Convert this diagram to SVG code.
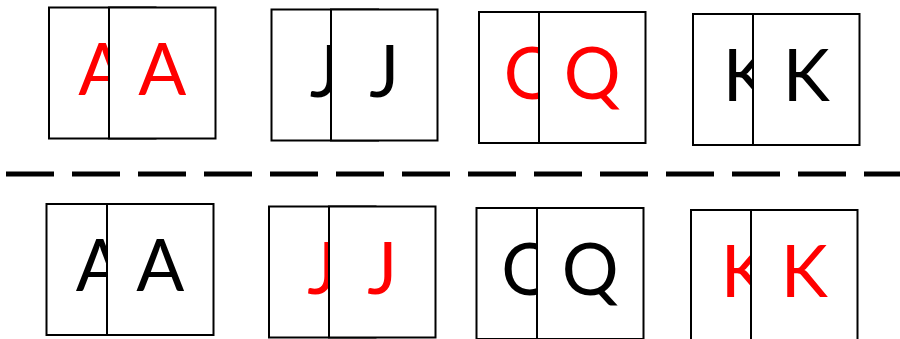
<svg xmlns="http://www.w3.org/2000/svg" width="900" height="339" viewBox="0 0 900 339">
<style>
.card{fill:#fff;stroke:#000;stroke-width:2}
.t{font-family:Lato,"Open Sans",sans-serif;font-size:71px;text-anchor:middle}
.r{fill:#ff0000}
.b{fill:#000}
.sep{stroke:#000;stroke-width:5;stroke-dasharray:48 18;fill:none}
</style>
<rect width="900" height="339" fill="#fff"/>
<g id="connectors">
<line class="sep" x1="6" y1="174" x2="900" y2="174"/>
</g>
<g id="top-A">
<rect class="card" x="49" y="7.5" width="106.5" height="131"/>
<text class="t r" x="102.25" y="94.5">A</text>
<rect class="card" x="109" y="7.5" width="106.5" height="131"/>
<text class="t r" x="162.25" y="94.5">A</text>
</g>
<g id="top-J">
<rect class="card" x="271.5" y="9.5" width="106.5" height="131"/>
<text class="t b" x="324.75" y="97">J</text>
<rect class="card" x="331" y="9.5" width="106.5" height="131"/>
<text class="t b" x="384.25" y="97">J</text>
</g>
<g id="top-Q">
<rect class="card" x="479" y="12" width="106.5" height="131"/>
<text class="t r" x="532.25" y="99">Q</text>
<rect class="card" x="539" y="12" width="106.5" height="131"/>
<text class="t r" x="592.25" y="99">Q</text>
</g>
<g id="top-K">
<rect class="card" x="693" y="14" width="106.5" height="131"/>
<text class="t b" x="746.25" y="101">K</text>
<rect class="card" x="753" y="14" width="106.5" height="131"/>
<text class="t b" x="806.25" y="101">K</text>
</g>
<g id="bottom-A">
<rect class="card" x="46.5" y="204" width="106.5" height="131"/>
<text class="t b" x="99.75" y="291">A</text>
<rect class="card" x="107" y="204" width="106.5" height="131"/>
<text class="t b" x="160.25" y="291">A</text>
</g>
<g id="bottom-J">
<rect class="card" x="269" y="206.5" width="106.5" height="131"/>
<text class="t r" x="322.25" y="293.5">J</text>
<rect class="card" x="329" y="206.5" width="106.5" height="131"/>
<text class="t r" x="382.25" y="293.5">J</text>
</g>
<g id="bottom-Q">
<rect class="card" x="476.5" y="208" width="106.5" height="131"/>
<text class="t b" x="529.75" y="295">Q</text>
<rect class="card" x="537" y="208" width="106.5" height="131"/>
<text class="t b" x="590.25" y="295">Q</text>
</g>
<g id="bottom-K">
<rect class="card" x="691" y="210" width="106.5" height="131"/>
<text class="t r" x="744.25" y="297">K</text>
<rect class="card" x="751" y="210" width="106.5" height="131"/>
<text class="t r" x="804.25" y="297">K</text>
</g>
</svg>
